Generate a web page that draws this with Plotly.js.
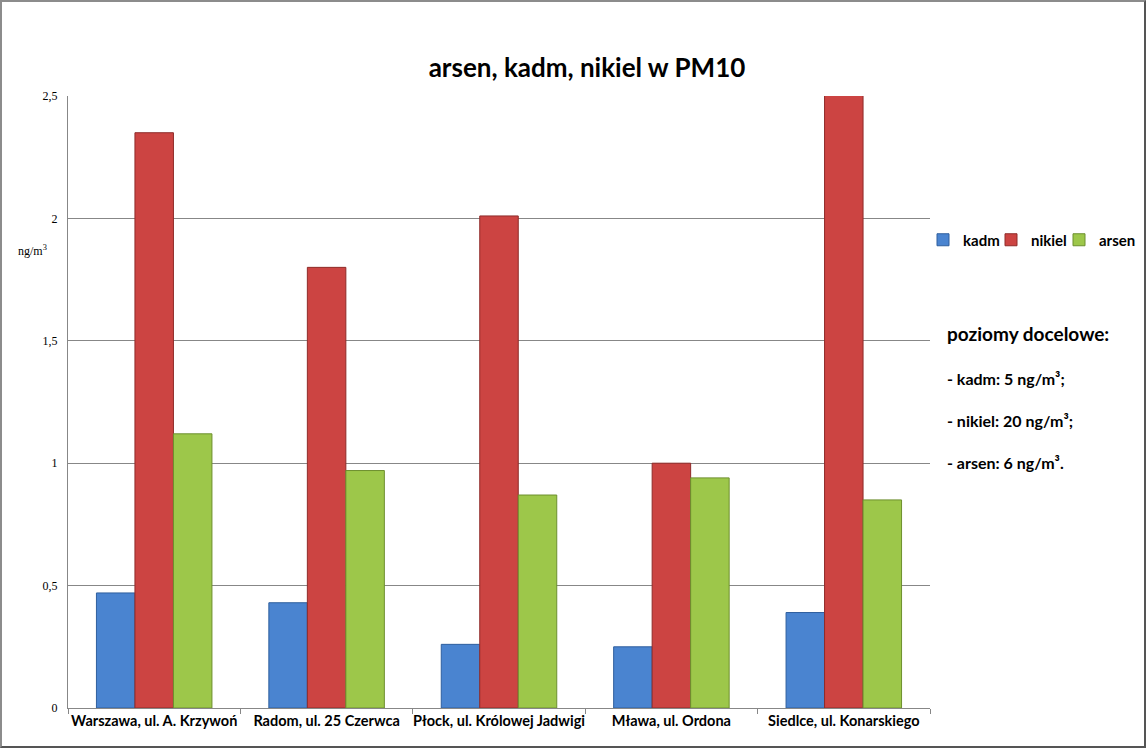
<!DOCTYPE html>
<html><head><meta charset="utf-8">
<script src="https://cdn.plot.ly/plotly-3.0.1.min.js"></script>
<style>
html,body{margin:0;padding:0;background:#fff;}
#wrap{position:relative;width:1146px;height:748px;}
#chart{width:1146px;height:748px;}
#frame{position:absolute;left:0;top:0;width:1146px;height:748px;box-sizing:border-box;border:2px solid #8c8c8c;border-right-color:#555;border-bottom-color:#555;pointer-events:none;}
</style>
</head><body>
<div id="wrap"><div id="chart"></div><div id="frame"></div></div>
<script>
const categories = ["Warszawa, ul. A. Krzywoń", "Radom, ul. 25 Czerwca", "Płock, ul. Królowej Jadwigi", "Mława, ul. Ordona", "Siedlce, ul. Konarskiego"];
const kadm = [0.47, 0.43, 0.26, 0.25, 0.39];
const nikiel = [2.35, 1.80, 2.01, 1.00, 2.60];
const arsen = [1.12, 0.97, 0.87, 0.94, 0.85];
const yTicks = [0, 0.5, 1, 1.5, 2, 2.5];
const yTickText = ["0", "0,5", "1", "1,5", "2", "2,5"];
const notes = ["poziomy docelowe:", "- kadm: 5 ng/m³;", "- nikiel: 20 ng/m³;", "- arsen: 6 ng/m³."];

const W = 1146, H = 748, L = 68, R = 216, T = 96, B = 40;
const px = x => (x - L) / (W - L - R);
const py = y => (H - B - y) / (H - T - B);

const font = "Lato, 'Open Sans', sans-serif";
function bar(name, y, color, line, leg) {
  return {type: "bar", name: name, x: categories, y: y, legend: leg,
    marker: {color: color, line: {color: line, width: 1}}};
}
const data = [
  bar("kadm", kadm, "#4a84d0", "#2f5f9e", "legend"),
  bar("nikiel", nikiel, "#cc4442", "#8f2b29", "legend2"),
  bar("arsen", arsen, "#9dc74a", "#6d8f2e", "legend3")
];
const ann = [
  {text: "ng/m<sup>3</sup>", x: px(49), y: py(241), xref: "paper", yref: "paper", xanchor: "right", showarrow: false,
   font: {family: "'Liberation Serif', serif", size: 12, color: "#000"}},
  {text: "<b>" + notes[0] + "</b>", x: px(945), y: py(333), xref: "paper", yref: "paper", xanchor: "left", showarrow: false,
   font: {family: font, size: 19, color: "#000"}},
];
const ys = [378, 420, 462];
for (let i = 1; i < notes.length; i++) {
  ann.push({text: "<b>" + notes[i] + "</b>", x: px(945), y: py(ys[i-1]), xref: "paper", yref: "paper", xanchor: "left", showarrow: false,
    font: {family: font, size: 16, color: "#000"}});
}
function leg(symX) {
  return {orientation: "h", x: px(symX - 20), y: py(240), xanchor: "left", yanchor: "middle",
    font: {family: font, size: 15, color: "#000", weight: "bold"}, itemwidth: 30,
    bgcolor: "rgba(0,0,0,0)"};
}
const layout = {
  width: W, height: H,
  margin: {l: L, r: R, t: T, b: B, pad: 0, autoexpand: false},
  paper_bgcolor: "#fff", plot_bgcolor: "#fff",
  separators: ", ",
  barmode: "group", bargap: 0.33, bargroupgap: 0,
  title: {text: "<b>arsen, kadm, nikiel w PM10</b>", x: 587 / W, xanchor: "center", y: 1 - 68 / H, yanchor: "middle",
    font: {family: font, size: 26, color: "#000"}},
  xaxis: {type: "category", showgrid: false, showline: true, linecolor: "#878787", linewidth: 1,
    ticks: "outside", tickson: "boundaries", ticklen: 5, tickcolor: "#878787",
    tickfont: {family: font, size: 14.5, color: "#000", weight: "bold"}, tickangle: 0, automargin: false},
  yaxis: {range: [0, 2.5], tickvals: yTicks, ticktext: yTickText, showgrid: true, gridcolor: "#878787", gridwidth: 1,
    showline: true, linecolor: "#878787", linewidth: 1, zeroline: false, ticks: "", ticklen: 0, ticklabelstandoff: 7,
    tickfont: {family: "'Liberation Serif', serif", size: 12, color: "#000"}, automargin: false},
  showlegend: true,
  legend: leg(943),
  legend2: leg(1011),
  legend3: leg(1079),
  annotations: ann
};
Plotly.newPlot("chart", data, layout, {displayModeBar: false, staticPlot: true});
</script>
</body></html>
